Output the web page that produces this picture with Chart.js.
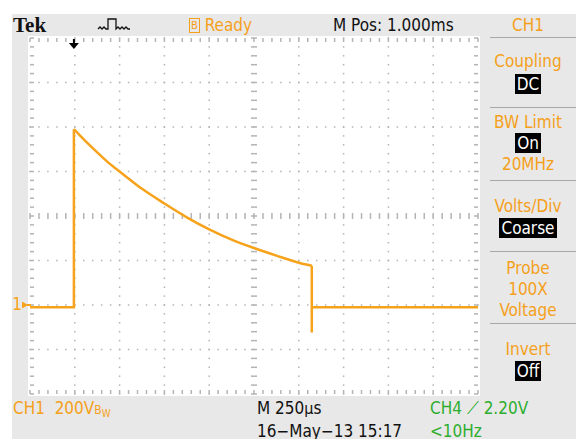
<!DOCTYPE html>
<html lang="en">
<head>
    <meta charset="UTF-8">
    <title>Tek CH1 capture</title>
    <script src="https://cdn.jsdelivr.net/npm/chart.js"></script>
    <style>
        body {
            margin: 0;
            width: 576px;
            height: 439px;
            background: #fff;
            position: relative;
            overflow: hidden;
            font-family: 'Liberation Sans Narrow', 'DejaVu Sans Condensed', 'Arial Narrow', sans-serif;
        }
        .bg { position: absolute; left: 12px; top: 14px; right: 0; bottom: 0; background: #e8e8e8; }
        .screen { position: absolute; left: 28px; top: 36px; width: 452px; height: 360px; background: #fff; }
        canvas { position: absolute; left: 0; top: 0; }
        .t { position: absolute; font-size: 17px; white-space: nowrap; line-height: 18px; }
        .or { color: #f5a01a; }
        .gr { color: #2eae2e; }
        .bk { color: #111; }
        .box { background: #000; color: #fff; padding: 0 2px; }
        .c { width: 96px; left: 480px; text-align: center; }
        .sep { position: absolute; left: 490px; width: 86px; height: 1px; background: #a8a8a8; }
        .icon { position: absolute; left: 97px; top: 17px; }
    </style>
</head>
<body>
    <div class="bg"></div>
    <div class="screen"></div>

    <div class="t bk" style="left:13px; top:14px; font-family:'Liberation Serif', serif; font-weight:bold; font-size:21px; line-height:22px;">Tek</div>
    <svg class="icon" width="34" height="14">
        <polyline points="1,12 3,10 5,12 7,10 9,12 11,12 11,2 19,2 19,12 21,10 23,12 25,10 27,12 29,10 31,12 33,12"
                  fill="none" stroke="#111" stroke-width="1.3"/>
    </svg>
    <div class="t or" style="left:189px; top:16px;"><span style="border:1.5px solid #f5a01a; font-size:11px; padding:0 1px; position:relative; top:-2px;">B</span> Ready</div>
    <div class="t bk" style="left:333px; top:16px;">M Pos: 1.000ms</div>
    <div class="t or c" style="top:16px;">CH1</div>
    <div class="sep" style="top:37px;"></div>

    <div class="t or c" style="top:52px;">Coupling</div>
    <div class="t c" style="top:75px;"><span class="box">DC</span></div>
    <div class="sep" style="top:107px;"></div>
    <div class="t or c" style="top:113px;">BW Limit</div>
    <div class="t c" style="top:134px;"><span class="box">On</span></div>
    <div class="t or c" style="top:155px;">20MHz</div>
    <div class="sep" style="top:180px;"></div>
    <div class="t or c" style="top:197px;">Volts/Div</div>
    <div class="t c" style="top:219px;"><span class="box">Coarse</span></div>
    <div class="sep" style="top:251px;"></div>
    <div class="t or c" style="top:259px;">Probe</div>
    <div class="t or c" style="top:280px;">100X</div>
    <div class="t or c" style="top:301px;">Voltage</div>
    <div class="sep" style="top:323px;"></div>
    <div class="t or c" style="top:340px;">Invert</div>
    <div class="t c" style="top:362px;"><span class="box">Off</span></div>

    <div class="t or" style="left:13px; top:399px;">CH1&nbsp;&nbsp;200V<span style="font-size:12px;">B<sub style="font-size:10px;">W</sub></span></div>
    <div class="t bk" style="left:257px; top:399px;">M 250<span style="font-size:16px;">µ</span>s</div>
    <div class="t bk" style="left:257px; top:422px;">16−May−13 15:17</div>
    <div class="t gr" style="left:430px; top:399px;">CH4 ⟋ 2.20V</div>
    <div class="t gr" style="left:430px; top:422px;">&lt;10Hz</div>

    <canvas id="scope" width="576" height="439"></canvas>

    <script>
        // screen is 10 x 8 divisions, 250 us/div and 200 V/div
        const timeRange = [0, 10];
        const levelRange = [-4, 4];
        const triggerPos = 0.98;
        const groundLevel = -2;

        // CH1 trace in divisions
        const riseTime = [0, 0.98, 0.98];
        const riseLevel = [-2.05, -2.05, 1.95];
        const decayTime = [0.98, 1.25, 1.5, 1.75, 2.0, 2.5, 3.0, 3.5, 4.0, 4.5, 5.0, 5.5, 6.0, 6.29];
        const decayLevel = [1.95, 1.67, 1.43, 1.20, 1.00, 0.61, 0.28, -0.03, -0.30, -0.53, -0.72, -0.89, -1.05, -1.12];
        const fallTime = [6.29, 6.29, 6.29, 10];
        const fallLevel = [-1.12, -2.62, -2.05, -2.05];

        const traceColor = '#f7a21b';
        const toPoints = (xs, ys) => xs.map((x, i) => ({ x: x, y: ys[i] }));

        // graticule: dotted divisions, ruled centre lines and edges
        const graticule = {
            id: 'graticule',
            beforeDatasetsDraw(chart) {
                const c = chart.ctx;
                const xs = chart.scales.x, ys = chart.scales.y;
                c.save();
                c.fillStyle = '#b4b4b4';
                for (let d = timeRange[0]; d <= timeRange[1]; d++) {
                    const px = xs.getPixelForValue(d);
                    for (let m = levelRange[0]; m <= levelRange[1] + 0.001; m += 0.2) {
                        const py = ys.getPixelForValue(m);
                        if (d === 5) c.fillRect(px - 3, py - 0.75, 6, 1.5);
                        else if (d === 0) c.fillRect(px, py - 0.75, 4, 1.5);
                        else if (d === 10) c.fillRect(px - 4, py - 0.75, 4, 1.5);
                        else c.fillRect(px - 0.75, py - 0.75, 1.5, 1.5);
                    }
                }
                for (let d = levelRange[0]; d <= levelRange[1]; d++) {
                    const py = ys.getPixelForValue(d);
                    for (let m = timeRange[0]; m <= timeRange[1] + 0.001; m += 0.2) {
                        const px = xs.getPixelForValue(m);
                        if (d === 0) c.fillRect(px - 0.75, py - 3, 1.5, 6);
                        else if (d === levelRange[1]) c.fillRect(px - 0.75, py, 1.5, 4);
                        else if (d === levelRange[0]) c.fillRect(px - 0.75, py - 4, 1.5, 4);
                        else c.fillRect(px - 0.75, py - 0.75, 1.5, 1.5);
                    }
                }
                c.restore();
            },
            afterDraw(chart) {
                const c = chart.ctx;
                const xs = chart.scales.x, ys = chart.scales.y;
                const a = chart.chartArea;
                c.save();
                // trigger position arrow
                const tx = xs.getPixelForValue(triggerPos);
                c.fillStyle = '#000';
                c.fillRect(tx - 1, a.top + 1, 2, 6);
                c.beginPath();
                c.moveTo(tx - 5, a.top + 5);
                c.lineTo(tx + 5, a.top + 5);
                c.lineTo(tx, a.top + 11);
                c.closePath();
                c.fill();
                // channel 1 ground marker
                const gy = ys.getPixelForValue(groundLevel);
                c.fillStyle = traceColor;
                c.font = '17px "Liberation Sans Narrow", "DejaVu Sans Condensed", sans-serif';
                c.textBaseline = 'middle';
                c.fillText('1', 12, gy + 1);
                c.beginPath();
                c.moveTo(a.left - 8, gy - 3.5);
                c.lineTo(a.left - 2, gy);
                c.lineTo(a.left - 8, gy + 3.5);
                c.closePath();
                c.fill();
                c.fillRect(a.left - 3, gy - 1, 4, 2);
                c.restore();
            }
        };

        const lineStyle = {
            borderColor: traceColor,
            borderWidth: 2.5,
            pointRadius: 0,
            fill: false,
            showLine: true
        };

        new Chart(document.getElementById('scope'), {
            type: 'scatter',
            data: {
                datasets: [
                    Object.assign({ label: 'rise', data: toPoints(riseTime, riseLevel), tension: 0 }, lineStyle),
                    Object.assign({ label: 'decay', data: toPoints(decayTime, decayLevel), cubicInterpolationMode: 'monotone' }, lineStyle),
                    Object.assign({ label: 'fall', data: toPoints(fallTime, fallLevel), tension: 0 }, lineStyle)
                ]
            },
            options: {
                responsive: false,
                animation: false,
                layout: { padding: { left: 30, top: 38, right: 98, bottom: 45 } },
                plugins: { legend: { display: false }, tooltip: { enabled: false } },
                scales: {
                    x: { type: 'linear', display: false, min: timeRange[0], max: timeRange[1] },
                    y: { type: 'linear', display: false, min: levelRange[0], max: levelRange[1] }
                }
            },
            plugins: [graticule]
        });
    </script>
</body>
</html>
